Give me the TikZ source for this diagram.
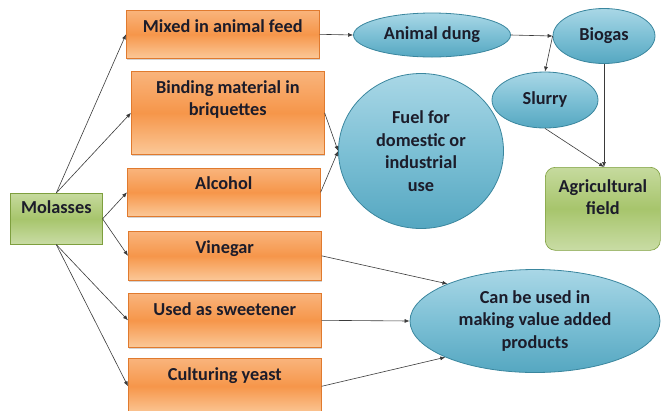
\documentclass[tikz,border=0pt]{standalone}
\usepackage{fontspec}
\setmainfont{Carlito}
\usepackage{tikz}
\usetikzlibrary{shapes.geometric, arrows.meta, shadows, positioning}

\definecolor{orangetop}{HTML}{F9B47C}
\definecolor{orangemid}{HTML}{F6964A}
\definecolor{orangebot}{HTML}{FBC898}
\definecolor{orangeline}{HTML}{E07A2E}
\definecolor{bluetop}{HTML}{A9D7E6}
\definecolor{bluemid}{HTML}{7DC0D5}
\definecolor{bluebot}{HTML}{55A7C1}
\definecolor{blueline}{HTML}{3A869E}
\definecolor{greentop}{HTML}{C6DA9E}
\definecolor{greenmid}{HTML}{A7C56C}
\definecolor{greenbot}{HTML}{C9DCA5}
\definecolor{greenline}{HTML}{7E9F3E}
\definecolor{textdark}{HTML}{1C1C2A}
\definecolor{linegray}{HTML}{3A3A3A}

\newcommand{\twolines}[2]{\begin{tabular}[t]{@{}c@{}}#1\\#2\end{tabular}}

\tikzset{
    usebox/.style={rectangle, draw=orangeline, line width=0.6bp, top color=orangetop, bottom color=orangebot, middle color=orangemid, minimum width=193bp, inner xsep=0bp, inner ysep=0bp, text height=22bp, anchor=north west, drop shadow={shadow xshift=1bp, shadow yshift=-1.5bp, opacity=0.35}},
    oval/.style={ellipse, draw=blueline, line width=0.8bp, top color=bluetop, bottom color=bluebot, middle color=bluemid, inner sep=0bp, align=center},
    greenbox/.style={rectangle, draw=greenline, line width=0.6bp, top color=greentop, bottom color=greenbot, middle color=greenmid, inner sep=0bp, anchor=north west},
    link/.style={->, color=linegray, line width=0.6bp}
}

\begin{document}
\begin{tikzpicture}[x=1bp, y=-1bp, >={Latex[length=5bp,width=4bp]}, font=\bfseries\fontsize{18.3bp}{22.5bp}\selectfont, text=textdark]
        \useasboundingbox (0,0) rectangle (661,410);

        % Nodes
        \node (molasses) [greenbox, minimum width=92bp, text height=20bp, text depth=31bp] at (10,193) {Molasses};
        \node (mixed) [usebox, text depth=26bp] at (126,10) {Mixed in animal feed};
        \node (binding) [usebox, text depth=61bp] at (131,71) {\twolines{Binding material in}{briquettes}};
        \node (alcohol) [usebox, text height=21bp, text depth=27bp] at (127,168) {Alcohol};
        \node (vinegar) [usebox, text depth=27bp] at (128,231) {Vinegar};
        \node (sweetener) [usebox, text depth=32bp] at (128,293) {Used as sweetener};
        \node (yeast) [usebox, text depth=34bp] at (128,358) {Culturing yeast};
        \node (dung) [oval, minimum width=157bp, minimum height=44bp] at (432,35) {Animal dung};
        \node (biogas) [oval, minimum width=102bp, minimum height=55bp] at (604,36) {Biogas};
        \node (slurry) [oval, minimum width=106bp, minimum height=56bp] at (545,100) {Slurry};
        \node (fuel) [oval, minimum width=165bp, minimum height=155bp] at (421,151) {Fuel for\\domestic or\\industrial\\use};
        \node (field) [greenbox, rounded corners=10bp, minimum width=115bp, text height=25bp, text depth=58bp] at (545,167) {\twolines{Agricultural}{field}};
        \node (valueadded) [oval, minimum width=250bp, minimum height=103bp] at (535,321) {Can be used in\\making value added\\products};

        % Arrows
        \draw [link] (molasses.north) -- (mixed.west);
        \draw [link] (molasses.north) -- (binding.west);
        \draw [link] (molasses.east) -- (alcohol.west);
        \draw [link] (molasses.east) -- (vinegar.west);
        \draw [link] (molasses.south) -- (sweetener.west);
        \draw [link] (molasses.south) -- (yeast.west);
        \draw [link] (mixed.east) -- (dung.west);
        \draw [link] (binding.east) -- (fuel.west);
        \draw [link] (alcohol.east) -- (fuel.west);
        \draw [link] (dung.east) -- (biogas.west);
        \draw [link] (biogas.west) -- (slurry.north);
        \draw [link] (biogas.south) -- (biogas.south |- field.north);
        \draw [link] (slurry.south) -- (biogas.south |- field.north);
        \draw [link] (vinegar.east) -- (valueadded.157);
        \draw [link] (sweetener.east) -- (valueadded.west);
        \draw [link] (yeast.east) -- (valueadded.202);
\end{tikzpicture}
\end{document}
